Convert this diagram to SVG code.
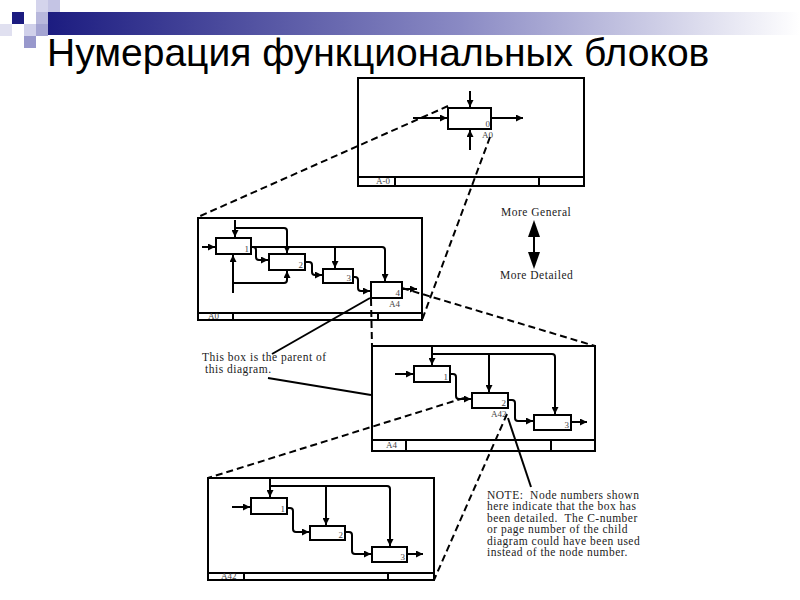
<svg xmlns="http://www.w3.org/2000/svg" width="800" height="600" viewBox="0 0 800 600">
<defs>
<linearGradient id="bar" x1="0" y1="0" x2="1" y2="0">
<stop offset="0" stop-color="#1c1c80"/>
<stop offset="0.55" stop-color="#8a8ac4"/>
<stop offset="1" stop-color="#ffffff"/>
</linearGradient>
<marker id="ah" viewBox="0 0 10 10" refX="10" refY="5" markerWidth="9" markerHeight="7" markerUnits="userSpaceOnUse" orient="auto">
<path d="M0,0 L10,5 L0,10 Z" fill="#000"/>
</marker>
<style>
.frame{fill:#fff;stroke:#000;stroke-width:2}
.fl{stroke:#000;stroke-width:2;fill:none}
.box{fill:#fff;stroke:#000;stroke-width:2}
.ar{stroke:#000;stroke-width:2;fill:none;marker-end:url(#ah);stroke-linejoin:round}
.dash{stroke:#000;stroke-width:2;fill:none;stroke-dasharray:7,4}
.ptr{stroke:#000;stroke-width:2;fill:none}
.sm{font-family:"Liberation Serif",serif;font-size:9px;fill:#444}
.num{font-family:"Liberation Serif",serif;font-size:9px;fill:#444;text-anchor:end}
.txt{font-family:"Liberation Serif",serif;font-size:11.5px;letter-spacing:0.5px;fill:#222;white-space:pre}
</style>
</defs>
<g id="decor">
<rect x="48" y="12" width="752" height="23" fill="url(#bar)"/>
<rect x="12" y="12" width="12" height="12" fill="#1c1c80"/>
<rect x="36" y="0" width="12" height="12" fill="#d4d4ec"/>
<rect x="48" y="0" width="12" height="12" fill="#c4c4e4"/>
<rect x="36" y="12" width="12" height="12" fill="#b8b8dc"/>
<rect x="0" y="24" width="12" height="12" fill="#e0e0f0"/>
<rect x="24" y="24" width="12" height="12" fill="#d0d0ea"/>
<rect x="36" y="24" width="12" height="12" fill="#a4a4d2"/>
<rect x="24" y="36" width="12" height="12" fill="#9898cc"/>
</g>
<text id="title" x="47" y="66" font-family="Liberation Sans, Arial, sans-serif" font-size="39" fill="#000">Нумерация функциональных блоков</text>

<g id="frame-A-0">
<rect class="frame" x="358" y="78" width="226" height="108"/>
<path class="fl" d="M358,177 H584 M395,177 V186 M539,177 V186"/>
<text class="sm" x="376" y="184">A-0</text>
<rect class="box" x="448" y="108" width="43" height="21"/>
<text class="num" x="490" y="127">0</text>
<text class="sm" x="482" y="138">A0</text>
</g>

<g id="frame-A0">
<rect class="frame" x="198" y="218" width="224" height="102"/>
<path class="fl" d="M198,313 H422 M233,313 V320 M378,313 V320"/>
<text class="sm" x="208" y="319">A0</text>
<g id="A0-1"><rect class="box" x="216" y="238" width="35" height="16"/><text class="num" x="249" y="252">1</text></g>
<g id="A0-2"><rect class="box" x="269" y="254" width="36" height="16"/><text class="num" x="303" y="268">2</text></g>
<g id="A0-3"><rect class="box" x="323" y="269" width="30" height="14"/><text class="num" x="351" y="281">3</text></g>
<g id="A0-4"><rect class="box" x="371" y="282" width="31" height="16"/><text class="num" x="400" y="296">4</text><text class="sm" x="389" y="307">A4</text></g>
</g>

<g id="frame-A4">
<rect class="frame" x="372" y="346" width="223" height="105"/>
<path class="fl" d="M372,440 H595 M406,440 V451 M551,440 V451"/>
<text class="sm" x="386" y="448">A4</text>
<g id="A4-1"><rect class="box" x="414" y="366" width="36" height="16"/><text class="num" x="448" y="380">1</text></g>
<g id="A4-2"><rect class="box" x="472" y="393" width="36" height="15"/><text class="num" x="506" y="406">2</text><text class="sm" x="491" y="417">A42</text></g>
<g id="A4-3"><rect class="box" x="534" y="415" width="37" height="15"/><text class="num" x="569" y="428">3</text></g>
</g>

<g id="frame-A42">
<rect class="frame" x="208" y="478" width="226" height="102"/>
<path class="fl" d="M208,573 H434 M244,573 V580 M388,573 V580"/>
<text class="sm" x="221" y="579">A42</text>
<g id="A42-1"><rect class="box" x="251" y="498" width="36" height="16"/><text class="num" x="285" y="512">1</text></g>
<g id="A42-2"><rect class="box" x="310" y="526" width="35" height="14"/><text class="num" x="343" y="538">2</text></g>
<g id="A42-3"><rect class="box" x="372" y="547" width="35" height="15"/><text class="num" x="405" y="560">3</text></g>
</g>

<g id="connectors">
<path class="ar" d="M470,91 V107"/>
<path class="ar" d="M470,150 V130"/>
<path class="ar" d="M413,118 H447"/>
<path class="ar" d="M492,118 H523"/>
<path class="ar" d="M235,220 V237"/>
<path class="ar" d="M235,228 H284 Q287,228 287,231 V253"/>
<path class="ar" d="M202,247 H215"/>
<path class="ar" d="M251,247 H382 Q385,247 385,250 V281"/>
<path class="ar" d="M335,247 V268"/>
<path class="ar" d="M251,247 H253 Q256,247 256,250 V257 Q256,260 259,260 H268"/>
<path class="ar" d="M233,293 V255"/>
<path class="ar" d="M233,283 H284 Q287,283 287,280 V271"/>
<path class="ar" d="M305,262 H309 Q312,262 312,265 V272 Q312,275 315,275 H322"/>
<path class="ar" d="M353,277 H355 Q358,277 358,280 V288 Q358,291 361,291 H370"/>
<path class="ar" d="M402,289 H417"/>
<path class="ar" d="M432,347 V365"/>
<path class="ar" d="M432,354 H552 Q555,354 555,357 V414"/>
<path class="ar" d="M489,354 V392"/>
<path class="ar" d="M395,374 H413"/>
<path class="ar" d="M450,374 H453 Q456,374 456,377 V396 Q456,399 459,399 H471"/>
<path class="ar" d="M508,400 H512 Q515,400 515,403 V418 Q515,421 518,421 H533"/>
<path class="ar" d="M571,422 H587"/>
<path class="ar" d="M270,478 V497"/>
<path class="ar" d="M270,486 H387 Q390,486 390,489 V546"/>
<path class="ar" d="M326,486 V525"/>
<path class="ar" d="M232,507 H250"/>
<path class="ar" d="M287,508 H290 Q293,508 293,511 V529 Q293,532 296,532 H309"/>
<path class="ar" d="M345,532 H349 Q352,532 352,535 V551 Q352,554 355,554 H371"/>
<path class="ar" d="M407,554 H423"/>
<path class="dash" d="M448,106 L198,217"/>
<path class="dash" d="M490,137 L422,320"/>
<path class="dash" d="M371,299 L372,346"/>
<path class="dash" d="M402,288 L595,346"/>
<path class="dash" d="M464,398 L208,478"/>
<path class="dash" d="M507,414 L434,580"/>
<path class="ptr" d="M272,354 L370,298"/>
<path class="ptr" d="M268,378 L371,395"/>
<path class="ptr" d="M508,418 L531,487"/>
</g>

<g id="scale">
<text class="txt" x="501" y="216">More General</text>
<line x1="534" y1="234" x2="534" y2="254" stroke="#000" stroke-width="2"/>
<polygon points="534,220 528,237 540,237" fill="#000"/>
<polygon points="534,269 528,252 540,252" fill="#000"/>
<text class="txt" x="500" y="279">More Detailed</text>
</g>

<g id="note-parent">
<text class="txt" x="202" y="361">This box is the parent of</text>
<text class="txt" x="205" y="373">this diagram.</text>
</g>

<g id="note-numbers">
<text class="txt" x="487" y="499">NOTE:  Node numbers shown</text>
<text class="txt" x="487" y="510.4">here indicate that the box has</text>
<text class="txt" x="487" y="521.8">been detailed.  The C-number</text>
<text class="txt" x="487" y="533.2">or page number of the child</text>
<text class="txt" x="487" y="544.6">diagram could have been used</text>
<text class="txt" x="487" y="556">instead of the node number.</text>
</g>
</svg>
